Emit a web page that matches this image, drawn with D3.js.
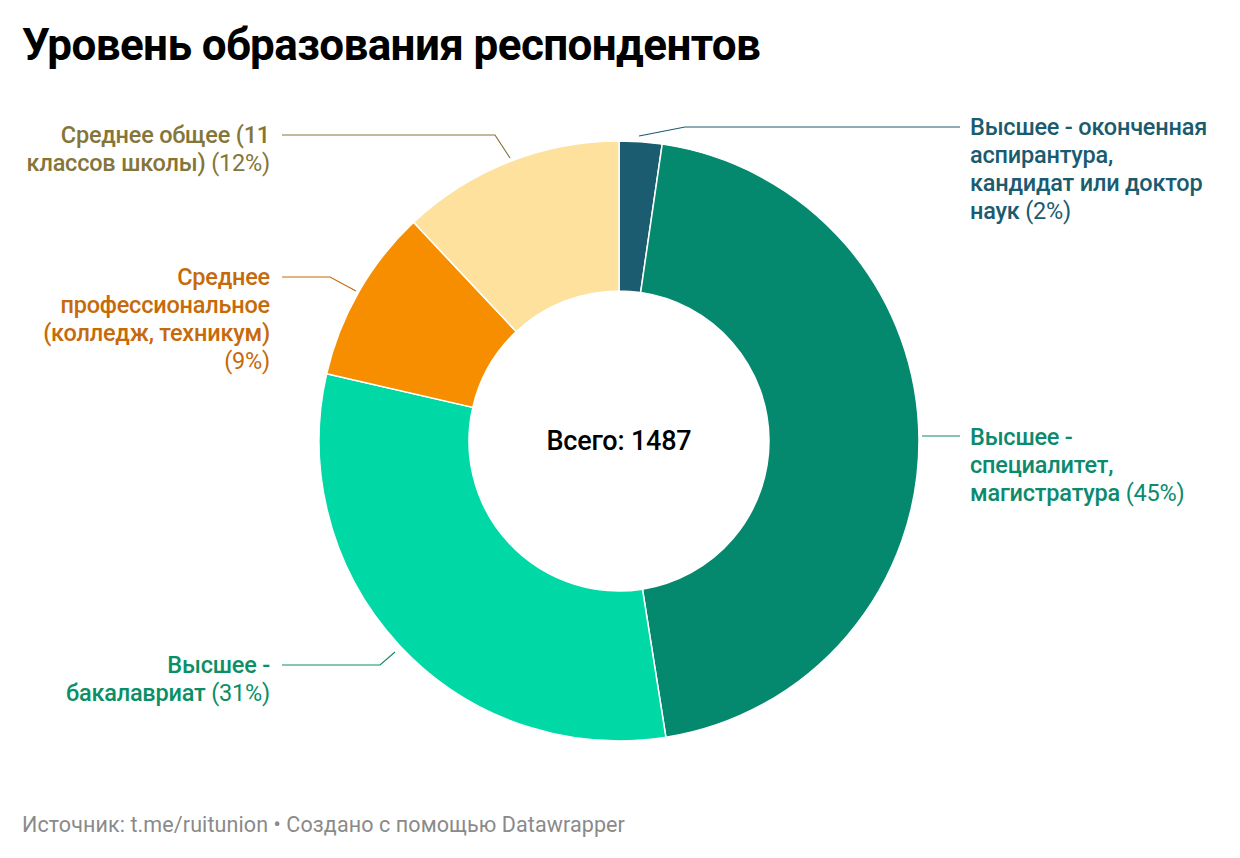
<!DOCTYPE html>
<html><head><meta charset="utf-8">
<script src="https://cdn.jsdelivr.net/npm/d3@7"></script>
<style>body{margin:0;background:#fff;font-family:Roboto,sans-serif}</style>
</head><body><svg id="c" width="1240" height="858"></svg>
<script>
const categories=["Высшее - оконченная аспирантура, кандидат или доктор наук","Высшее - специалитет, магистратура","Высшее - бакалавриат","Среднее профессиональное (колледж, техникум)","Среднее общее (11 классов школы)"];
const values=[2.3,45.2,31.1,9.4,12.0];
const pctLabels=["2%","45%","31%","9%","12%"];
const colors=["#1b5c70","#04896f","#00d9a5","#f78e00","#fde19c"];
const textColors=["#1a5b6f","#0b8a6e","#0a8f66","#c66a0a","#857538"];
const labelLines=[["Высшее - оконченная","аспирантура,","кандидат или доктор","наук"],["Высшее -","специалитет,","магистратура"],["Высшее -","бакалавриат"],["Среднее","профессиональное","(колледж, техникум)",""],["Среднее общее (11","классов школы)"]];
const svg=d3.select("#c");
svg.append("text").attr("x",22).attr("y",60).attr("font-size",44).attr("font-weight",700).attr("letter-spacing",-0.6).text("Уровень образования респондентов");
const cx=619,cy=441,R=300,r=150;
const pie=d3.pie().sort(null).value(d=>d);
const arcs=pie(values);
const arc=d3.arc().innerRadius(r).outerRadius(R);
const g=svg.append("g").attr("transform",`translate(${cx},${cy})`);
g.selectAll("path").data(arcs).enter().append("path").attr("d",arc).attr("fill",(d,i)=>colors[i]).attr("stroke","#fff").attr("stroke-width",1.5);
g.append("text").attr("text-anchor","middle").attr("dy","0.35em").attr("font-size",27).attr("font-weight",500).attr("letter-spacing",-0.2).text("Всего: 1487");
const layout=[
 {side:"r",y:135,pts:[[639,136],[685,127],[960,127]]},
 {side:"r",y:445,pts:[[922,436],[960,436]]},
 {side:"l",y:673,pts:[[282,665],[380,665],[395,652]]},
 {side:"l",y:285,pts:[[282,277],[330,277],[356,291]]},
 {side:"l",y:143,pts:[[282,135],[495,135],[510,158]]}
];
layout.forEach((L,i)=>{
 svg.append("path").attr("d",d3.line()(L.pts)).attr("fill","none").attr("stroke",textColors[i]).attr("stroke-width",1.2);
 const t=svg.append("text").attr("font-size",23.5).attr("fill",textColors[i]).attr("letter-spacing",-0.2)
  .attr("text-anchor",L.side==="r"?"start":"end");
 const x=L.side==="r"?970:270;
 const lines=labelLines[i];
 lines.forEach((ln,j)=>{
  const ts=t.append("tspan").attr("x",x).attr("y",L.y+j*28);
  if(ln) ts.append("tspan").attr("font-weight",500).text(ln);
  if(j===lines.length-1){ts.append("tspan").attr("font-weight",400).text((ln?" ":"")+"("+pctLabels[i]+")");}
 });
});
svg.append("text").attr("x",22).attr("y",832).attr("font-size",21.5).attr("fill","#8a8a8a").attr("letter-spacing",0.1).text("Источник: t.me/ruitunion • Создано с помощью Datawrapper");
</script></body></html>
